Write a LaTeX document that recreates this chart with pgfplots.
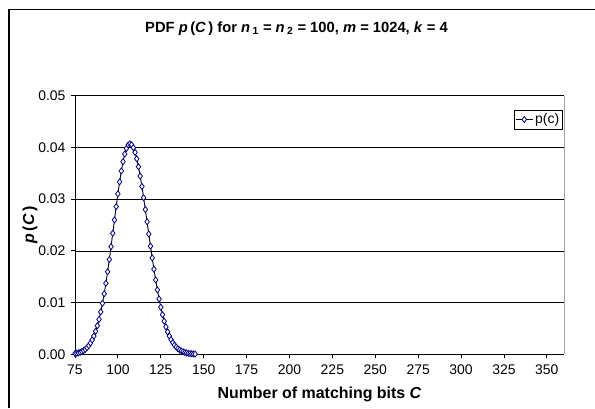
\documentclass[border=0pt]{standalone}
\usepackage{pgfplots}
\pgfplotsset{compat=1.18}
\usepackage{fontspec}
\setmainfont{Liberation Sans}
\definecolor{navy}{RGB}{0,0,128}
\pgfplotstableread{
C p
75 0.000140
76 0.000198
77 0.000278
78 0.000386
79 0.000529
80 0.000717
81 0.000962
82 0.001276
83 0.001673
84 0.002172
85 0.002788
86 0.003537
87 0.004437
88 0.005508
89 0.006760
90 0.008209
91 0.009858
92 0.01170
93 0.01374
94 0.01596
95 0.01833
96 0.02082
97 0.02339
98 0.02598
99 0.02855
100 0.03102
101 0.03334
102 0.03544
103 0.03725
104 0.03872
105 0.03981
106 0.04048
107 0.04070
108 0.04051
109 0.03995
110 0.03904
111 0.03780
112 0.03626
113 0.03446
114 0.03245
115 0.03028
116 0.02799
117 0.02563
118 0.02326
119 0.02092
120 0.01863
121 0.01645
122 0.01438
123 0.01246
124 0.01070
125 0.009104
126 0.007672
127 0.006406
128 0.005299
129 0.004343
130 0.003527
131 0.002840
132 0.002264
133 0.001788
134 0.001400
135 0.001085
136 0.000834
137 0.000635
138 0.000479
139 0.000358
140 0.000265
141 0.000194
142 0.000141
143 0.000102
144 0.0000726
145 0.0000514
}\pdata
\begin{document}
\begin{tikzpicture}[x=1bp,y=1bp]
\path[use as bounding box] (0,0) rectangle (595,408);
\draw[black, line width=1.3bp] (9,0) -- (9,398.5) -- (595,398.5);
\begin{axis}[
  at={(75bp,53.7bp)}, anchor=south west,
  scale only axis, width=489bp, height=258.6bp,
  xmin=75, xmax=360, ymin=0, ymax=0.05,
  xtick={75,100,...,350},
  ytick={0,0.01,0.02,0.03,0.04,0.05},
  axis x line*=bottom, axis y line*=left,
  axis line style={-, black, line width=0.8bp},
  tick align=outside, major tick length=4bp,
  tick style={black, line width=0.8bp},
  ymajorgrids, major grid style={black, line width=0.6bp},
  /pgf/number format/assume math mode=true,
  yticklabel style={xshift=-2bp, /pgf/number format/fixed, /pgf/number format/fixed zerofill, /pgf/number format/precision=2},
  scaled y ticks=false,
  ticklabel style={font=\fontsize{14}{16}\selectfont},
  xticklabel style={yshift=-3bp},
  title={\textbf{PDF \textit{p}\,(\textit{C}\,) for \textit{n}\,\textsubscript{1} = \textit{n}\,\textsubscript{2} = 100, \textit{m} = 1024, \textit{k} = 4}},
  title style={at={(axis description cs:0.5,1)}, anchor=center, yshift=61bp, xshift=-23bp, font=\fontsize{14.8}{17}\selectfont},
  xlabel={\textbf{Number of matching bits \textit{C}}},
  xlabel style={at={(axis description cs:0.5,0)}, anchor=center, yshift=-40bp, font=\fontsize{16}{18}\selectfont},
  legend style={at={(rel axis cs:0.998,0.945)}, anchor=north east, draw=black, line width=0.6bp, inner sep=1.5bp, font=\fontsize{14}{16}\selectfont, fill=white},
  legend cell align=left,
  clip=false,
]
\addplot[black, line width=0.9bp, mark=diamond*, mark size=3bp, mark options={draw=navy, fill=white, line width=0.8bp}] table[x=C, y=p] {\pdata};
\addlegendentry{p(c)}
\draw[gray!70, line width=0.8bp] (rel axis cs:1,0) -- (rel axis cs:1,1);
\end{axis}
\node[rotate=90, font=\fontsize{16}{18}\selectfont] at (30,183) {\textbf{\textit{p}\,(\textit{C}\,)}};
\end{tikzpicture}
\end{document}
